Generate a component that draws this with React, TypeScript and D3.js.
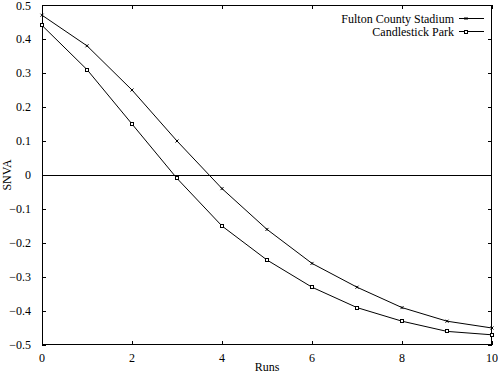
import * as d3 from 'd3';

const runs = [0, 1, 2, 3, 4, 5, 6, 7, 8, 9, 10];
const fultonSnva = [0.47, 0.38, 0.25, 0.1, -0.04, -0.16, -0.26, -0.33, -0.39, -0.43, -0.45];
const candlestickSnva = [0.44, 0.31, 0.15, -0.01, -0.15, -0.25, -0.33, -0.39, -0.43, -0.46, -0.47];
const xTicks = [0, 2, 4, 6, 8, 10];
const yTicks = [-0.5, -0.4, -0.3, -0.2, -0.1, 0, 0.1, 0.2, 0.3, 0.4, 0.5];
const seriesNames = ['Fulton County Stadium', 'Candlestick Park'];

const W = 498;
const H = 374;
const font = '"Liberation Serif", "DejaVu Serif", serif';

export default function App() {
  const x = d3.scaleLinear().domain([0, 10]).range([42, 492]);
  const y = d3.scaleLinear().domain([-0.5, 0.5]).range([345, 5]);
  const line = d3
    .line<number>()
    .x((_, i) => x(runs[i]))
    .y((d) => y(d));
  const tk = 4;

  const crossMark = (cx: number, cy: number, key: string) => (
    <g key={key} stroke="#000" strokeWidth={1}>
      <line x1={cx - 1.5} y1={cy - 1.5} x2={cx + 1.5} y2={cy + 1.5} />
      <line x1={cx - 1.5} y1={cy + 1.5} x2={cx + 1.5} y2={cy - 1.5} />
    </g>
  );
  const squareMark = (cx: number, cy: number, key: string) => (
    <rect key={key} x={Math.round(cx) - 1.5} y={Math.round(cy) - 1.5} width={3} height={3} fill="#fff" stroke="#000" strokeWidth={1} />
  );

  return (
    <svg
      width={W}
      height={H}
      style={{ position: 'absolute', left: 0, top: 0, background: '#fff' }}
      fontFamily={font}
      fontSize={12}
    >
      <rect x={0} y={0} width={W} height={H} fill="#fff" />
      {/* ticks on all sides */}
      <g stroke="#000" strokeWidth={1}>
        {yTicks.map((t) => (
          <g key={'y' + t}>
            <line x1={42} x2={42 + tk} y1={Math.round(y(t)) + 0.5} y2={Math.round(y(t)) + 0.5} />
            <line x1={492 - tk} x2={492} y1={Math.round(y(t)) + 0.5} y2={Math.round(y(t)) + 0.5} />
          </g>
        ))}
        {xTicks.map((t) => (
          <g key={'x' + t}>
            <line x1={Math.round(x(t)) + 0.5} x2={Math.round(x(t)) + 0.5} y1={345} y2={345 - tk} />
            <line x1={Math.round(x(t)) + 0.5} x2={Math.round(x(t)) + 0.5} y1={5} y2={5 + tk} />
          </g>
        ))}
        <line x1={42} x2={492} y1={y(0) + 0.5} y2={y(0) + 0.5} />
      </g>
      <rect x={42.5} y={5.5} width={449} height={339} fill="none" stroke="#000" strokeWidth={1} />
      {yTicks.map((t) => (
        <text key={'yl' + t} x={31} y={Math.max(y(t) + 4, 10)} textAnchor="end">
          {t === 0 ? '0' : d3.format('.1f')(t)}
        </text>
      ))}
      {xTicks.map((t) => (
        <text key={'xl' + t} x={x(t)} y={362} textAnchor="middle">
          {t}
        </text>
      ))}
      <text x={267} y={371} textAnchor="middle">Runs</text>
      <text x={0} y={0} textAnchor="middle" transform={`translate(11,${y(0)}) rotate(-90)`}>
        SNVA
      </text>
      <path d={line(fultonSnva) ?? ''} fill="none" stroke="#000" strokeWidth={1} />
      <path d={line(candlestickSnva) ?? ''} fill="none" stroke="#000" strokeWidth={1} />
      {fultonSnva.map((v, i) => crossMark(x(runs[i]), y(v), 'f' + i))}
      {candlestickSnva.map((v, i) => squareMark(x(runs[i]), y(v), 'c' + i))}
      {/* legend */}
      <text x={454} y={23} textAnchor="end">{seriesNames[0]}</text>
      <line x1={459} x2={484} y1={18.5} y2={18.5} stroke="#000" />
      {crossMark(466, 18.5, 'lf')}
      <text x={454} y={36} textAnchor="end">{seriesNames[1]}</text>
      <line x1={459} x2={484} y1={31.5} y2={31.5} stroke="#000" />
      {squareMark(466, 31.5, 'lc')}
    </svg>
  );
}
